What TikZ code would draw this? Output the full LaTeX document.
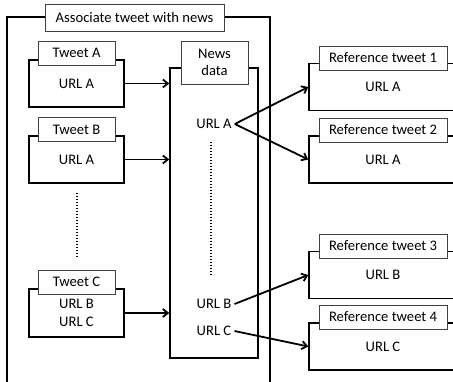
\documentclass[tikz,border=0pt]{standalone}
\usepackage{fontspec}
\setmainfont{Carlito}
\usetikzlibrary{arrows.meta}

\begin{document}
\begin{tikzpicture}[x=1pt,y=-1pt,font=\fontsize{14.6}{17.5}\selectfont,
  box/.style={draw=black,line width=1.5pt,minimum width=95pt,minimum height=47pt,align=center,inner sep=0pt},
  tab/.style={draw=black!75,line width=0.9pt,fill=white,minimum height=24pt,inner sep=0pt,align=center},
  link/.style={line width=1.8pt,-{Straight Barb[length=5pt,width=8pt]}},
  dots/.style={line width=1.5pt,dash pattern=on 1.5pt off 1.5pt}]

  \useasboundingbox (0,0) rectangle (453,382);
  \clip (0,0) rectangle (453,382);

  % outer frame and its title
  \draw [line width=1.4pt] (7,17) rectangle (270,395);
  \node [tab,minimum width=179pt,minimum height=27pt] at (134.5,17.5) (title) {Associate tweet with news};

  % tweets
  \node [box] at (76.5,83.5) (tweetA) {URL A};
  \node [tab,minimum width=77pt] at (76.5,53) (tweetAtab) {Tweet A};
  \node [box] at (76.5,159.5) (tweetB) {URL A};
  \node [tab,minimum width=77pt] at (76.5,129.5) (tweetBtab) {Tweet B};
  \node [box,minimum height=48pt] at (76.5,313) (tweetC) {URL B\\URL C};
  \node [tab,minimum width=77pt] at (76.5,282) (tweetCtab) {Tweet C};
  \draw [dots] (77,193) -- (77,258);

  % news data
  \node [box,minimum width=88pt,minimum height=290pt] at (214,213) (news) {};
  \node [tab,minimum width=67pt,minimum height=43pt] at (214.5,62.5) (newstab) {News\\data};
  \node [inner sep=3pt] at (214,124) (urlA) {URL A};
  \node [inner sep=3pt] at (214,304) (urlB) {URL B};
  \node [inner sep=3pt] at (214,331) (urlC) {URL C};
  \draw [dots] (211,142) -- (211,276);

  % reference tweets
  \node [box,minimum width=148pt] at (383,87) (refA) {URL A};
  \node [tab,minimum width=128pt] at (383,58) (refAtab) {Reference tweet 1};
  \node [box,minimum width=148pt] at (383,159.5) (refB) {URL A};
  \node [tab,minimum width=128pt] at (383,130) (refBtab) {Reference tweet 2};
  \node [box,minimum width=148pt] at (383,275) (refC) {URL B};
  \node [tab,minimum width=128pt] at (383,246) (refCtab) {Reference tweet 3};
  \node [box,minimum width=148pt] at (383,346.5) (refD) {URL C};
  \node [tab,minimum width=128pt] at (383,317) (refDtab) {Reference tweet 4};

  % arrows
  \draw [link] (tweetA.east) -- (tweetA.east -| news.west);
  \draw [link] (tweetB.east) -- (tweetB.east -| news.west);
  \draw [link] (tweetC.east) -- (tweetC.east -| news.west);
  \draw [link] (urlA.east) -- (refA.west);
  \draw [link] (urlA.east) -- (refB.west);
  \draw [link] (urlB.east) -- (refC.west);
  \draw [link] (urlC.east) -- (refD.west);

\end{tikzpicture}
\end{document}
